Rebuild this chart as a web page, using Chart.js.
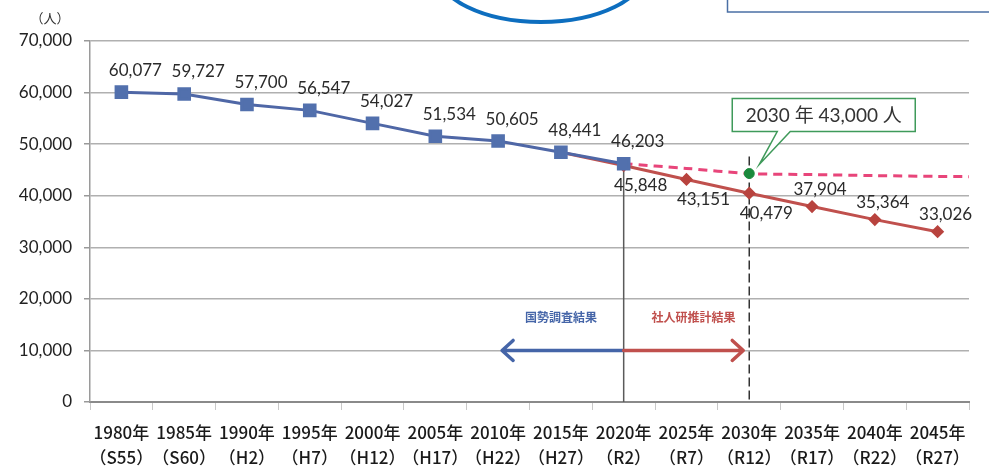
<!DOCTYPE html>
<html><head><meta charset="utf-8">
<script src="https://cdn.jsdelivr.net/npm/chart.js@4"></script>
<style>html,body{margin:0;padding:0;background:#fff}#wrap{width:989px;height:470px}</style>
</head><body><div id="wrap"><canvas id="c" width="989" height="470"></canvas></div>
<script>
const years = ["1980年","1985年","1990年","1995年","2000年","2005年","2010年","2015年","2020年","2025年","2030年","2035年","2040年","2045年"];
const eras = ["（S55）","（S60）","（H2）","（H7）","（H12）","（H17）","（H22）","（H27）","（R2）","（R7）","（R12）","（R17）","（R22）","（R27）"];
const censusValues = [60077, 59727, 57700, 56547, 54027, 51534, 50605, 48441, 46203, null, null, null, null, null];
const projectionValues = [null, null, null, null, null, null, null, 48441, 45848, 43151, 40479, 37904, 35364, 33026];
const targetYears = [2020, 2025, 2030, 2035, 2040, 2045, 2047.5];
const targetValues = [46203, 45300, 44300, 44100, 43900, 43750, 43700];
const targetPointYear = [2030];
const targetPointValue = [44300];
const yTicks = [0, 10000, 20000, 30000, 40000, 50000, 60000, 70000];
const calloutText = "2030 年 43,000 人";
const unitLabel = "（人）";
const censusLabel = "国勢調査結果";
const projectionLabel = "社人研推計結果";

const labels = years.map((y, i) => [y, eras[i]]);
const fmt = v => v.toLocaleString('en-US');

const decorPlugin = {
  id: 'decor',
  beforeDraw(chart) {
    const ctx = chart.ctx;
    ctx.save();
    ctx.fillStyle = '#fff';
    ctx.fillRect(0, 0, chart.width, chart.height);
    ctx.strokeStyle = '#0d6ebf';
    ctx.lineWidth = 4;
    ctx.beginPath();
    ctx.ellipse(541, -29, 104, 51, 0, 0, Math.PI * 2);
    ctx.stroke();
    ctx.strokeStyle = '#4a6fa5';
    ctx.lineWidth = 1.5;
    ctx.strokeRect(727.5, -10, 300, 22);
    ctx.fillStyle = '#333';
    ctx.font = '13px "Noto Sans CJK JP"';
    ctx.textAlign = 'center';
    ctx.textBaseline = 'middle';
    ctx.fillText(unitLabel, 50, 18);
    ctx.restore();
  },
  beforeDatasetsDraw(chart) {
    const ctx = chart.ctx;
    const x = chart.scales.x, y = chart.scales.y;
    const bottom = chart.chartArea.bottom;
    ctx.save();
    const x20 = x.getPixelForValue(8);
    ctx.strokeStyle = '#5a5a5a';
    ctx.lineWidth = 1.5;
    ctx.beginPath();
    ctx.moveTo(x20, y.getPixelForValue(projectionValues[8]));
    ctx.lineTo(x20, bottom);
    ctx.stroke();
    const x30 = x.getPixelForValue(10);
    ctx.strokeStyle = '#333';
    ctx.setLineDash([9, 4]);
    ctx.beginPath();
    ctx.moveTo(x30, y.getPixelForValue(targetPointValue[0]) - 17);
    ctx.lineTo(x30, bottom);
    ctx.stroke();
    ctx.setLineDash([]);
    const ay = y.getPixelForValue(10000);
    const bTip = x.getPixelForValue(6) + 4;
    const rTip = x.getPixelForValue(10) - 6;
    ctx.lineWidth = 3.5;
    ctx.lineCap = 'round';
    ctx.lineJoin = 'round';
    ctx.strokeStyle = '#4565a8';
    ctx.beginPath();
    ctx.moveTo(x20, ay); ctx.lineTo(bTip, ay);
    ctx.moveTo(bTip + 11, ay - 10); ctx.lineTo(bTip, ay); ctx.lineTo(bTip + 11, ay + 10);
    ctx.stroke();
    ctx.strokeStyle = '#c0504d';
    ctx.beginPath();
    ctx.moveTo(x20, ay); ctx.lineTo(rTip, ay);
    ctx.moveTo(rTip - 11, ay - 10); ctx.lineTo(rTip, ay); ctx.lineTo(rTip - 11, ay + 10);
    ctx.stroke();
    ctx.font = 'bold 12px "Noto Sans CJK JP"';
    ctx.textAlign = 'center';
    ctx.textBaseline = 'middle';
    ctx.fillStyle = '#4565a8';
    ctx.fillText(censusLabel, (x.getPixelForValue(6) + x20) / 2, ay - 33);
    ctx.fillStyle = '#c0504d';
    ctx.fillText(projectionLabel, (x20 + x30) / 2 + 7, ay - 33);
    ctx.restore();
  },
  afterDatasetsDraw(chart) {
    const ctx = chart.ctx;
    const x = chart.scales.x, y = chart.scales.y, x2 = chart.scales.x2;
    ctx.save();
    ctx.font = '17px Lato';
    ctx.fillStyle = '#2a2a2a';
    ctx.textAlign = 'center';
    ctx.textBaseline = 'middle';
    censusValues.forEach((v, i) => {
      if (v == null) return;
      const px = x.getPixelForValue(i), py = y.getPixelForValue(v);
      ctx.fillText(fmt(v), px + 14, py - 22);
    });
    projectionValues.forEach((v, i) => {
      if (v == null || i < 8) return;
      const px = x.getPixelForValue(i), py = y.getPixelForValue(v);
      if (i <= 10) ctx.fillText(fmt(v), px + 17, py + 20);
      else ctx.fillText(fmt(v), px + 8, py - 17);
    });
    const gx = x2.getPixelForValue(targetPointYear[0]);
    const gy = y.getPixelForValue(targetPointValue[0]);
    const bx = gx - 17, by = gy - 75, bw = 183, bh = 33;
    ctx.fillStyle = '#fff';
    ctx.strokeStyle = '#3f9a5a';
    ctx.lineWidth = 1.5;
    ctx.beginPath();
    ctx.moveTo(bx, by);
    ctx.lineTo(bx + bw, by);
    ctx.lineTo(bx + bw, by + bh);
    ctx.lineTo(gx + 41, by + bh);
    ctx.lineTo(gx + 10, gy - 9);
    ctx.lineTo(gx + 28, by + bh);
    ctx.lineTo(bx, by + bh);
    ctx.closePath();
    ctx.fill();
    ctx.stroke();
    ctx.fillStyle = '#333';
    ctx.font = '19px Lato, "Noto Sans CJK JP"';
    ctx.fillText(calloutText, bx + bw / 2, by + bh / 2 + 1);
    ctx.restore();
  }
};

new Chart(document.getElementById('c'), {
  type: 'line',
  data: {
    labels: labels,
    datasets: [
      {
        label: 'target',
        xAxisID: 'x2',
        data: targetYears.map((t, i) => ({ x: t, y: targetValues[i] })),
        borderColor: '#e8457a',
        borderWidth: 3,
        borderDash: [9, 6],
        pointRadius: 0,
        tension: 0.3,
        order: 3
      },
      {
        label: 'point',
        xAxisID: 'x2',
        data: targetPointYear.map((t, i) => ({ x: t, y: targetPointValue[i] })),
        showLine: false,
        pointRadius: 5,
        pointBackgroundColor: '#1b8a3c',
        pointBorderColor: '#1b8a3c',
        order: 0
      },
      {
        label: 'projection',
        data: projectionValues,
        borderColor: '#c0504d',
        borderWidth: 3,
        pointStyle: 'rectRot',
        pointRadius: ctx => ctx.dataIndex === 7 ? 0 : 4.5,
        pointBackgroundColor: '#b8433e',
        pointBorderColor: '#b8433e',
        order: 2
      },
      {
        label: 'census',
        data: censusValues,
        borderColor: '#4f67a6',
        borderWidth: 3,
        pointStyle: 'rect',
        pointRadius: 7.5,
        pointBackgroundColor: '#5270ad',
        pointBorderColor: '#5270ad',
        order: 1
      }
    ]
  },
  options: {
    responsive: false,
    animation: false,
    layout: { padding: { top: 41, right: 20, left: 0, bottom: 0 } },
    plugins: { legend: { display: false }, tooltip: { enabled: false } },
    scales: {
      x: {
        type: 'category',
        offset: true,
        grid: { display: true, drawOnChartArea: false, offset: true, tickLength: 8, color: '#c8c8c8', lineWidth: 1 },
        border: { display: true, color: '#8a8a8a', width: 2 },
        ticks: { color: '#1a1a1a', font: { family: '"Noto Sans CJK JP"', size: 17, weight: 500, lineHeight: 1.47 }, padding: 10, maxRotation: 0, autoSkip: false },
        afterFit: s => { s.height = 68; }
      },
      x2: {
        type: 'linear', display: false, min: 1977.5, max: 2047.5
      },
      y: {
        min: 0, max: 70000,
        afterBuildTicks: s => { s.ticks = yTicks.map(v => ({ value: v })); },
        grid: { color: '#b0b0b0', lineWidth: 1.5, tickLength: 6, tickColor: '#999' },
        border: { display: true, color: '#9a9a9a', width: 1.5 },
        ticks: { color: '#222', font: { family: 'Lato', size: 17 }, padding: 12, callback: v => fmt(v) },
        afterFit: s => { s.width = 90; }
      }
    }
  },
  plugins: [decorPlugin]
});
</script>
</body></html>
